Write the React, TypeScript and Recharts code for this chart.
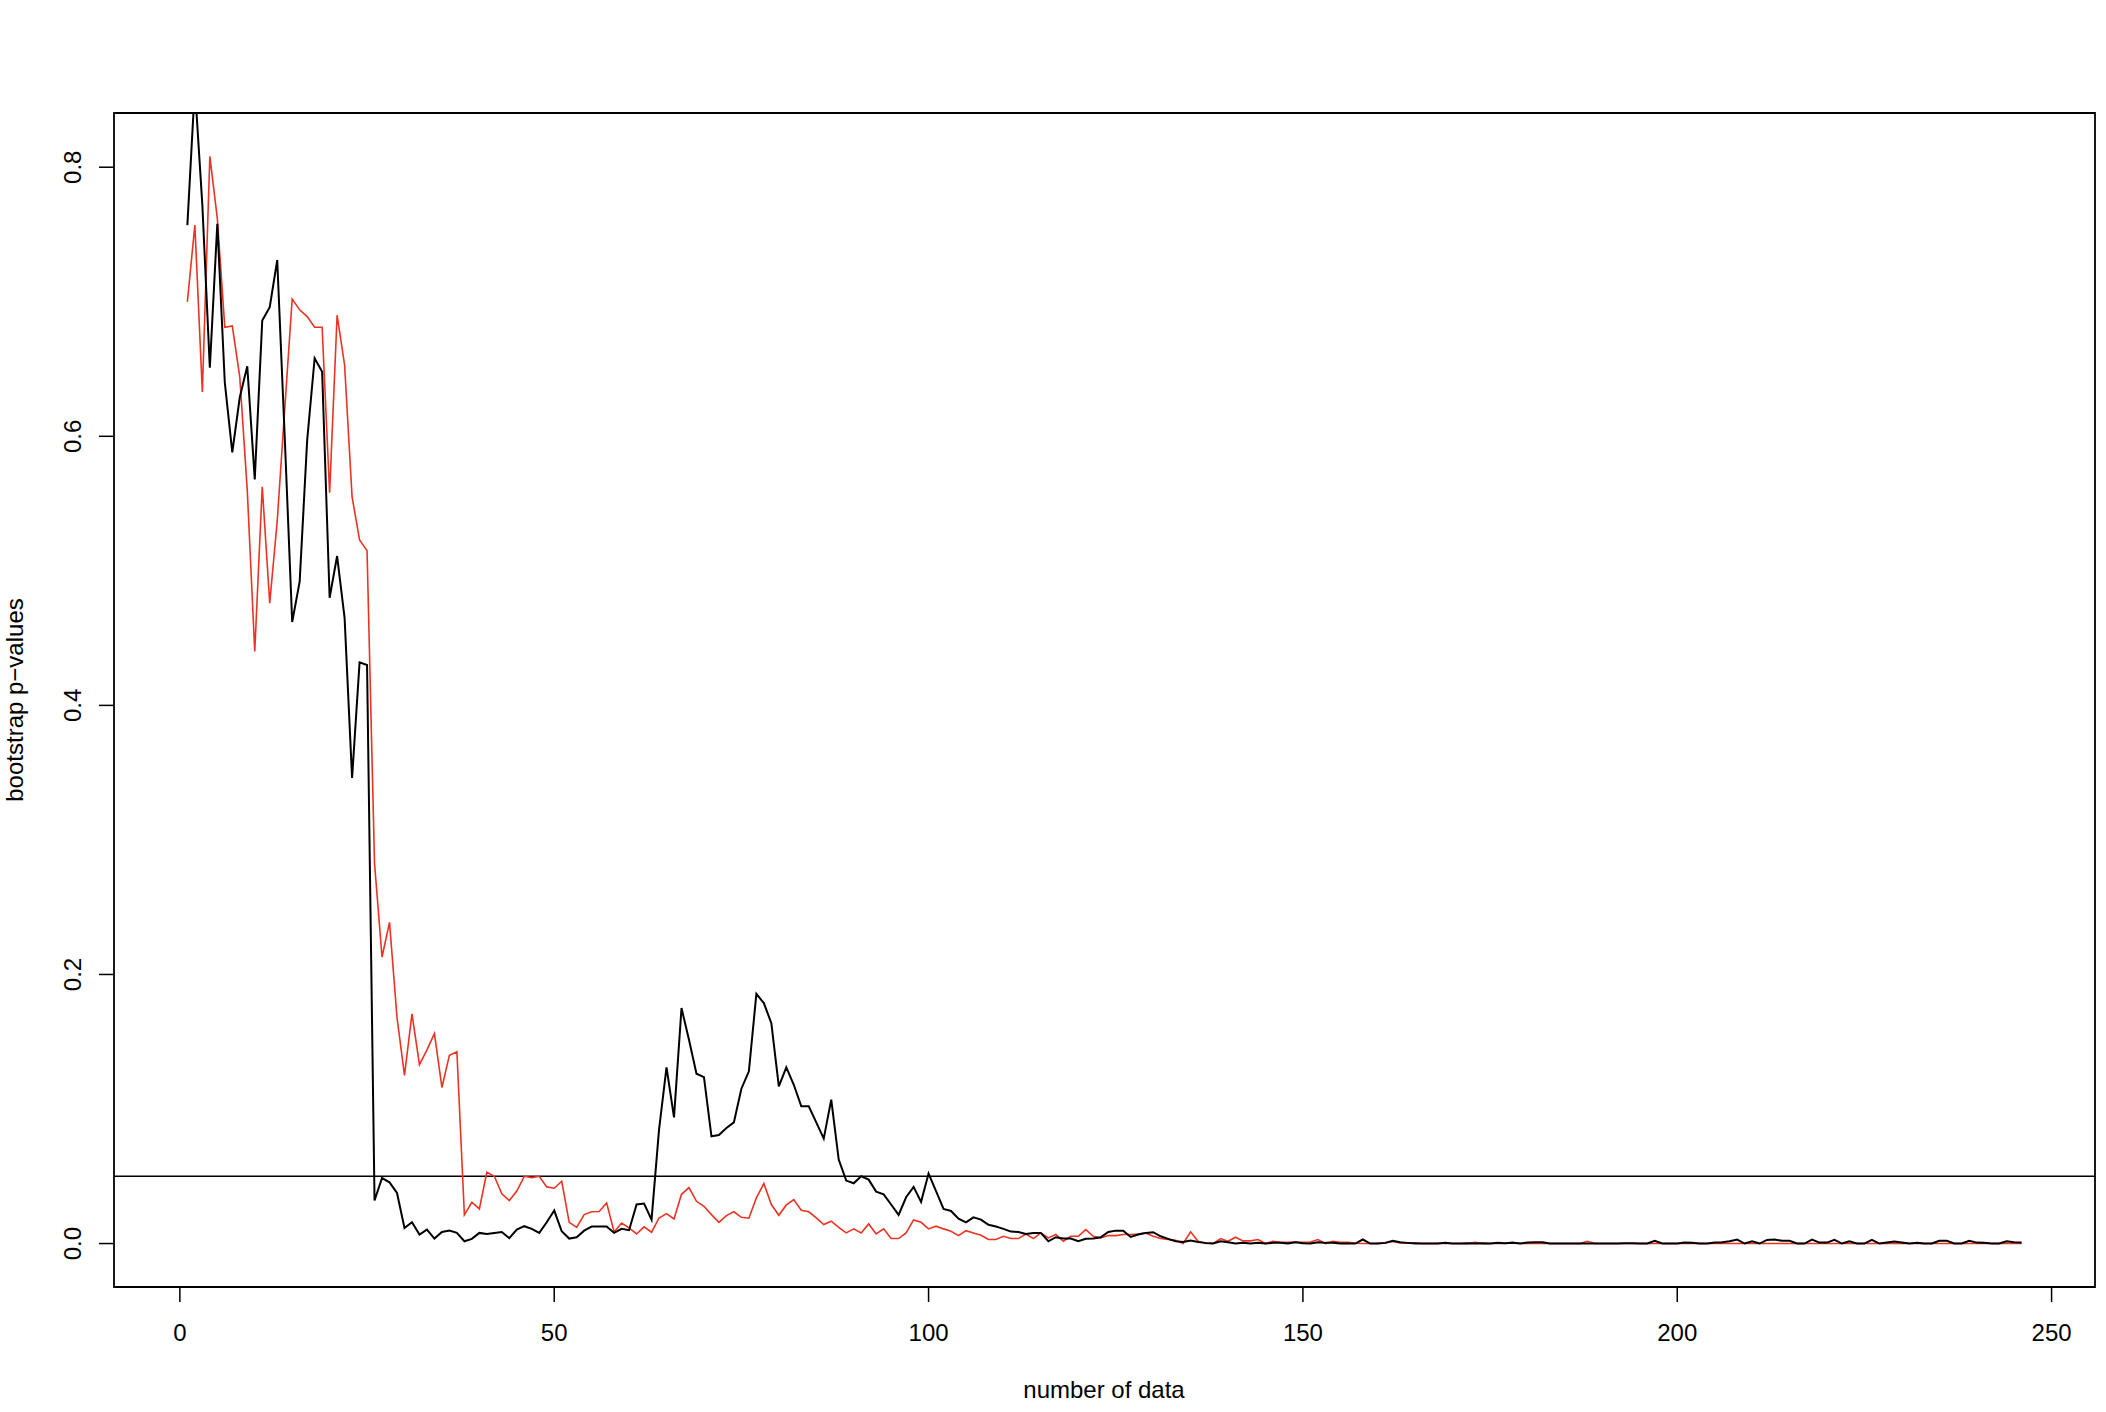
import React from "react";
import {
  LineChart,
  Line,
  XAxis,
  YAxis,
  ReferenceLine,
  ReferenceArea,
} from "recharts";

// bootstrap p-values per number of data (1..246)
const blackP = [
  0.757, 0.86, 0.772, 0.651, 0.758, 0.64, 0.588, 0.629, 0.652, 0.568,
  0.686, 0.696, 0.731, 0.6, 0.462, 0.492, 0.597, 0.658, 0.648, 0.48,
  0.511, 0.465, 0.346, 0.432, 0.43, 0.032, 0.0487, 0.0455, 0.0376, 0.0116,
  0.0158, 0.0067, 0.0104, 0.0037, 0.0086, 0.0096, 0.0079, 0.0017, 0.0035, 0.0079,
  0.0071, 0.0079, 0.0086, 0.004, 0.0104, 0.0129, 0.0109, 0.0079, 0.0158, 0.0245,
  0.0091, 0.0037, 0.0047, 0.0096, 0.0126, 0.0126, 0.0126, 0.0079, 0.0109, 0.0099,
  0.029, 0.0297, 0.0178, 0.0847, 0.131, 0.0938, 0.175, 0.1515, 0.1262, 0.1237,
  0.0797, 0.0807, 0.0859, 0.0901, 0.1151, 0.128, 0.1856, 0.1787, 0.1638, 0.1168,
  0.131, 0.118, 0.102, 0.102, 0.0901, 0.078, 0.107, 0.0624, 0.0468, 0.0448,
  0.05, 0.0475, 0.0386, 0.0366, 0.029, 0.0213, 0.0344, 0.0421, 0.031, 0.052,
  0.039, 0.0257, 0.0242, 0.0185, 0.0158, 0.0195, 0.0178, 0.0139, 0.0126, 0.0109,
  0.0089, 0.0086, 0.0071, 0.0079, 0.0079, 0.0017, 0.0047, 0.0037, 0.0037, 0.0017,
  0.0035, 0.0037, 0.0047, 0.0086, 0.0096, 0.0096, 0.0049, 0.0067, 0.0079, 0.0084,
  0.0054, 0.0035, 0.0017, 0.0012, 0.0022, 0.0012, 0.0005, 0, 0.0017, 0.001,
  0, 0.0005, 0, 0.0005, 0, 0.0005, 0.0005, 0, 0.001, 0.0002,
  0, 0.001, 0.0005, 0.0005, 0, 0, 0, 0.003, 0, 0,
  0.0005, 0.002, 0.001, 0.0005, 0, 0, 0, 0, 0.0005, 0,
  0, 0.0002, 0, 0.0002, 0, 0.0005, 0.0002, 0.0005, 0, 0.0007,
  0.001, 0.001, 0, 0, 0, 0, 0, 0, 0, 0,
  0, 0, 0.0002, 0.0002, 0, 0, 0.002, 0, 0, 0,
  0.0007, 0.0005, 0, 0, 0.0007, 0.001, 0.0017, 0.003, 0, 0.0017,
  0, 0.0027, 0.003, 0.002, 0.002, 0, 0, 0.003, 0.0007, 0.0007,
  0.0027, 0, 0.0017, 0, 0, 0.0027, 0, 0.0007, 0.0015, 0.0007,
  0, 0.0005, 0, 0, 0.002, 0.002, 0, 0, 0.002, 0.0007,
  0.0005, 0, 0, 0.0017, 0.001, 0.0007,
];

const redP = [
  0.7, 0.757, 0.633, 0.808, 0.762, 0.681, 0.682, 0.644, 0.56, 0.44,
  0.5625, 0.476, 0.537, 0.62, 0.702, 0.694, 0.689, 0.681, 0.681, 0.558,
  0.69, 0.653, 0.555, 0.523, 0.515, 0.2825, 0.213, 0.2387, 0.168, 0.125,
  0.1707, 0.133, 0.144, 0.156, 0.116, 0.14, 0.1426, 0.0213, 0.0307, 0.0257,
  0.053, 0.05, 0.037, 0.032, 0.039, 0.05, 0.049, 0.05, 0.0421, 0.0411,
  0.0463, 0.0158, 0.012, 0.0215, 0.0236, 0.0238, 0.0302, 0.0086, 0.0153, 0.0116,
  0.0071, 0.0124, 0.0084, 0.019, 0.0222, 0.0183, 0.0366, 0.0416, 0.0314, 0.0277,
  0.0215, 0.0158, 0.0208, 0.0236, 0.0195, 0.0188, 0.0339, 0.0446, 0.029, 0.021,
  0.0287, 0.0327, 0.0247, 0.0236, 0.019, 0.0141, 0.0166, 0.012, 0.0079, 0.0109,
  0.0079, 0.0146, 0.0071, 0.0109, 0.0037, 0.0037, 0.0079, 0.0176, 0.0158, 0.0109,
  0.0129, 0.0109, 0.0091, 0.0059, 0.0096, 0.0079, 0.0062, 0.003, 0.003, 0.0054,
  0.0037, 0.0037, 0.0071, 0.0037, 0.0079, 0.0042, 0.0067, 0.0017, 0.0054, 0.0054,
  0.0104, 0.0054, 0.0042, 0.0059, 0.0059, 0.0067, 0.0067, 0.0071, 0.0079, 0.0054,
  0.0037, 0.003, 0.0025, 0, 0.0087, 0.0017, 0, 0, 0.0037, 0.0017,
  0.0047, 0.002, 0.002, 0.003, 0, 0.0017, 0.001, 0.001, 0.0012, 0.001,
  0.0012, 0.003, 0, 0.0017, 0.001, 0.001, 0.0002, 0, 0, 0,
  0.0005, 0.0015, 0.0005, 0.0002, 0.0005, 0, 0, 0, 0, 0,
  0, 0, 0.001, 0, 0, 0, 0, 0.001, 0, 0,
  0, 0, 0, 0, 0, 0, 0, 0.0017, 0, 0,
  0, 0, 0, 0, 0, 0, 0, 0, 0, 0,
  0, 0, 0, 0, 0, 0, 0, 0, 0, 0,
  0, 0, 0, 0, 0, 0, 0, 0, 0, 0,
  0, 0, 0, 0, 0, 0, 0, 0, 0, 0,
  0, 0, 0, 0, 0, 0, 0, 0, 0, 0,
  0, 0, 0, 0, 0, 0,
];

const xTicks = [0, 50, 100, 150, 200, 250];
const yTicks = [0, 0.2, 0.4, 0.6, 0.8];
const cutoff = 0.05;

const X_DOMAIN: [number, number] = [-8.8, 255.8];
const Y_DOMAIN: [number, number] = [-0.0323, 0.8403];

const FONT = "'Liberation Sans', Arial, Helvetica, sans-serif";

const chartData = blackP.map((b, i) => ({
  n: i + 1,
  black: b,
  red: redP[i],
}));

function XTick(props: any) {
  const { x, y, payload } = props;
  return (
    <text
      x={x}
      y={y}
      dy="0.71em"
      textAnchor="middle"
      fontSize={24}
      fontFamily={FONT}
      fill="#000"
    >
      {payload.value}
    </text>
  );
}

function YTick(props: any) {
  const { x, y, payload } = props;
  return (
    <text
      x={x}
      y={y}
      dy="0.36em"
      textAnchor="middle"
      transform={`rotate(-90 ${x} ${y})`}
      fontSize={24}
      fontFamily={FONT}
      fill="#000"
    >
      {Number(payload.value).toFixed(1)}
    </text>
  );
}

export default function App() {
  return (
    <div style={{ position: "absolute", left: 0, top: 0, background: "#fff" }}>
      <LineChart
        width={2106}
        height={1412}
        data={chartData}
        margin={{ top: 113, right: 11, bottom: 0, left: 0 }}
      >
        <XAxis
          dataKey="n"
          type="number"
          domain={X_DOMAIN}
          ticks={xTicks}
          interval={0}
          allowDataOverflow
          axisLine={false}
          tickSize={15}
          tickMargin={22}
          tickLine={{ stroke: "#000", strokeWidth: 1.5 }}
          tick={<XTick />}
          height={125}
          label={{
            content: () => (
              <text
                x={1104}
                y={1398}
                textAnchor="middle"
                fontSize={24}
                fontFamily={FONT}
                fill="#000"
              >
                number of data
              </text>
            ),
          }}
        />
        <YAxis
          type="number"
          domain={Y_DOMAIN}
          ticks={yTicks}
          interval={0}
          allowDataOverflow
          axisLine={false}
          width={114}
          tickSize={15}
          tickMargin={27}
          tickLine={{ stroke: "#000", strokeWidth: 1.5 }}
          tick={<YTick />}
          label={{
            content: () => (
              <text
                x={23}
                y={700}
                textAnchor="middle"
                transform="rotate(-90 23 700)"
                fontSize={24}
                fontFamily={FONT}
                fill="#000"
              >
                bootstrap p−values
              </text>
            ),
          }}
        />
        <ReferenceArea
          x1={X_DOMAIN[0]}
          x2={X_DOMAIN[1]}
          y1={Y_DOMAIN[0]}
          y2={Y_DOMAIN[1]}
          fill="none"
          fillOpacity={0}
          stroke="#000"
          strokeWidth={1.8}
          ifOverflow="visible"
        />
        <ReferenceLine y={cutoff} stroke="#000" strokeWidth={1.6} />
        <Line
          dataKey="red"
          stroke="#eb3323"
          strokeWidth={1.6}
          dot={false}
          activeDot={false}
          isAnimationActive={false}
        />
        <Line
          dataKey="black"
          stroke="#000"
          strokeWidth={2}
          dot={false}
          activeDot={false}
          isAnimationActive={false}
        />
      </LineChart>
    </div>
  );
}
